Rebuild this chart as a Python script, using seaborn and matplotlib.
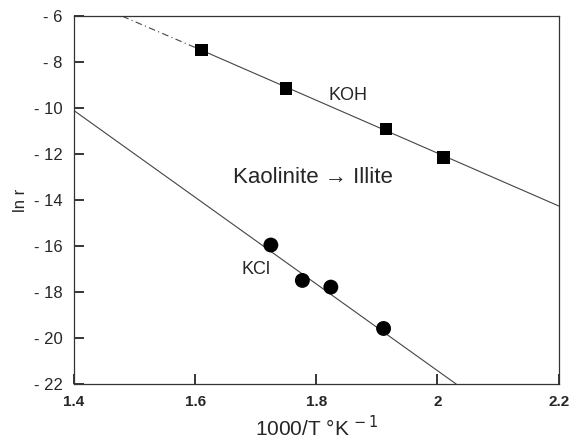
import seaborn as sns
from matplotlib import pyplot as plt
import pandas as pd

# measured points
koh_x = [1.61, 1.75, 1.915, 2.01]
koh_y = [-7.47, -9.15, -10.9, -12.15]
kcl_x = [1.725, 1.777, 1.824, 1.911]
kcl_y = [-15.95, -17.49, -17.78, -19.58]

# fitted lines (end points)
koh_fit_x = [1.61, 2.2]
koh_fit_y = [-7.47, -14.25]
koh_extrap_x = [1.48, 1.61]
koh_extrap_y = [-6.0, -7.47]
kcl_fit_x = [1.4, 2.031]
kcl_fit_y = [-10.1, -22.0]

x_ticks = [1.4, 1.6, 1.8, 2.0, 2.2]
x_tick_labels = ["1.4", "1.6", "1.8", "2", "2.2"]
y_ticks = [-22, -20, -18, -16, -14, -12, -10, -8, -6]
y_tick_labels = ["- 22", "- 20", "- 18", "- 16", "- 14", "- 12", "- 10", "- 8", "- 6"]

sns.set_style("ticks")
plt.rcParams["font.family"] = ["Liberation Sans", "DejaVu Sans"]

fig = plt.figure(figsize=(5.73, 4.4), dpi=100)
ax = fig.add_axes([0.129, 0.127, 0.846, 0.836])

line_kw = dict(color="#444444", linewidth=0.8, ax=ax, legend=False)
sns.lineplot(x=koh_fit_x, y=koh_fit_y, **line_kw)
sns.lineplot(x=koh_extrap_x, y=koh_extrap_y, linestyle=(0, (6, 3, 1, 3)), **line_kw)
sns.lineplot(x=kcl_fit_x, y=kcl_fit_y, **line_kw)

sns.scatterplot(x=koh_x, y=koh_y, marker="s", s=85, color="black",
                edgecolor="none", ax=ax, zorder=3)
sns.scatterplot(x=kcl_x, y=kcl_y, marker="o", s=115, color="black",
                edgecolor="none", ax=ax, zorder=3)

ax.text(1.852, -9.45, "KOH", fontsize=13, ha="center", va="center")
ax.text(1.70, -17.0, "KCl", fontsize=13, ha="center", va="center")
ax.text(1.795, -13.0, "Kaolinite \u2192 Illite", fontsize=16,
        ha="center", va="center")

ax.set_xlim(1.4, 2.2)
ax.set_ylim(-22, -6)
ax.set_xticks(x_ticks)
ax.set_xticklabels(x_tick_labels, fontsize=11, fontweight="bold")
ax.set_yticks(y_ticks)
ax.set_yticklabels(y_tick_labels, fontsize=12)
ax.tick_params(axis="both", which="major", direction="in", length=7,
               width=1.1, color="black", pad=8)
ax.xaxis.set_ticks_position("bottom")
ax.yaxis.set_ticks_position("left")
for spine in ax.spines.values():
    spine.set_linewidth(0.9)
    spine.set_color("#333333")

ax.set_xlabel("1000/T \u00b0K$^{\\,-1}$", fontsize=15, labelpad=4)
ax.set_ylabel("ln r", fontsize=12, labelpad=4)

fig.savefig("out.png", dpi=100)
